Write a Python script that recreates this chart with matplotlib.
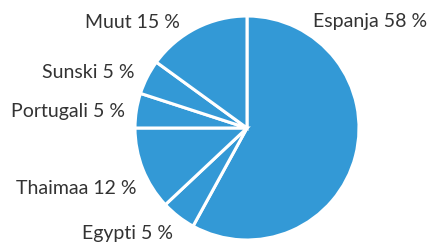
import matplotlib.pyplot as plt

# data
countries = ['Espanja', 'Egypti', 'Thaimaa', 'Portugali', 'Sunski', 'Muut']
shares = [58, 5, 12, 5, 5, 15]

# label placement (pixels, origin top-left); first label is left-aligned
label_pos = [(313, 22), (173, 234), (137, 189), (125, 112), (135, 72), (180, 22)]

W, H = 433, 246
fig = plt.figure(figsize=(W / 100, H / 100), dpi=100)
ax = fig.add_axes([0, 0, 1, 1])

ax.pie(shares, center=(247, H - 128), radius=112, startangle=90,
       counterclock=False, colors=['#3399d6'] * len(shares),
       wedgeprops=dict(edgecolor='white', linewidth=2.2), frame=True)
ax.set_xlim(0, W)
ax.set_ylim(0, H)
ax.set_aspect('equal')
ax.axis('off')

for i, (name, val) in enumerate(zip(countries, shares)):
    x, y = label_pos[i]
    ha = 'left' if i == 0 else 'right'
    ax.text(x, H - y, f'{name} {val} %', ha=ha, va='center',
            fontsize=14, color='#333333', family='Lato')

fig.savefig('out.png', dpi=100)
